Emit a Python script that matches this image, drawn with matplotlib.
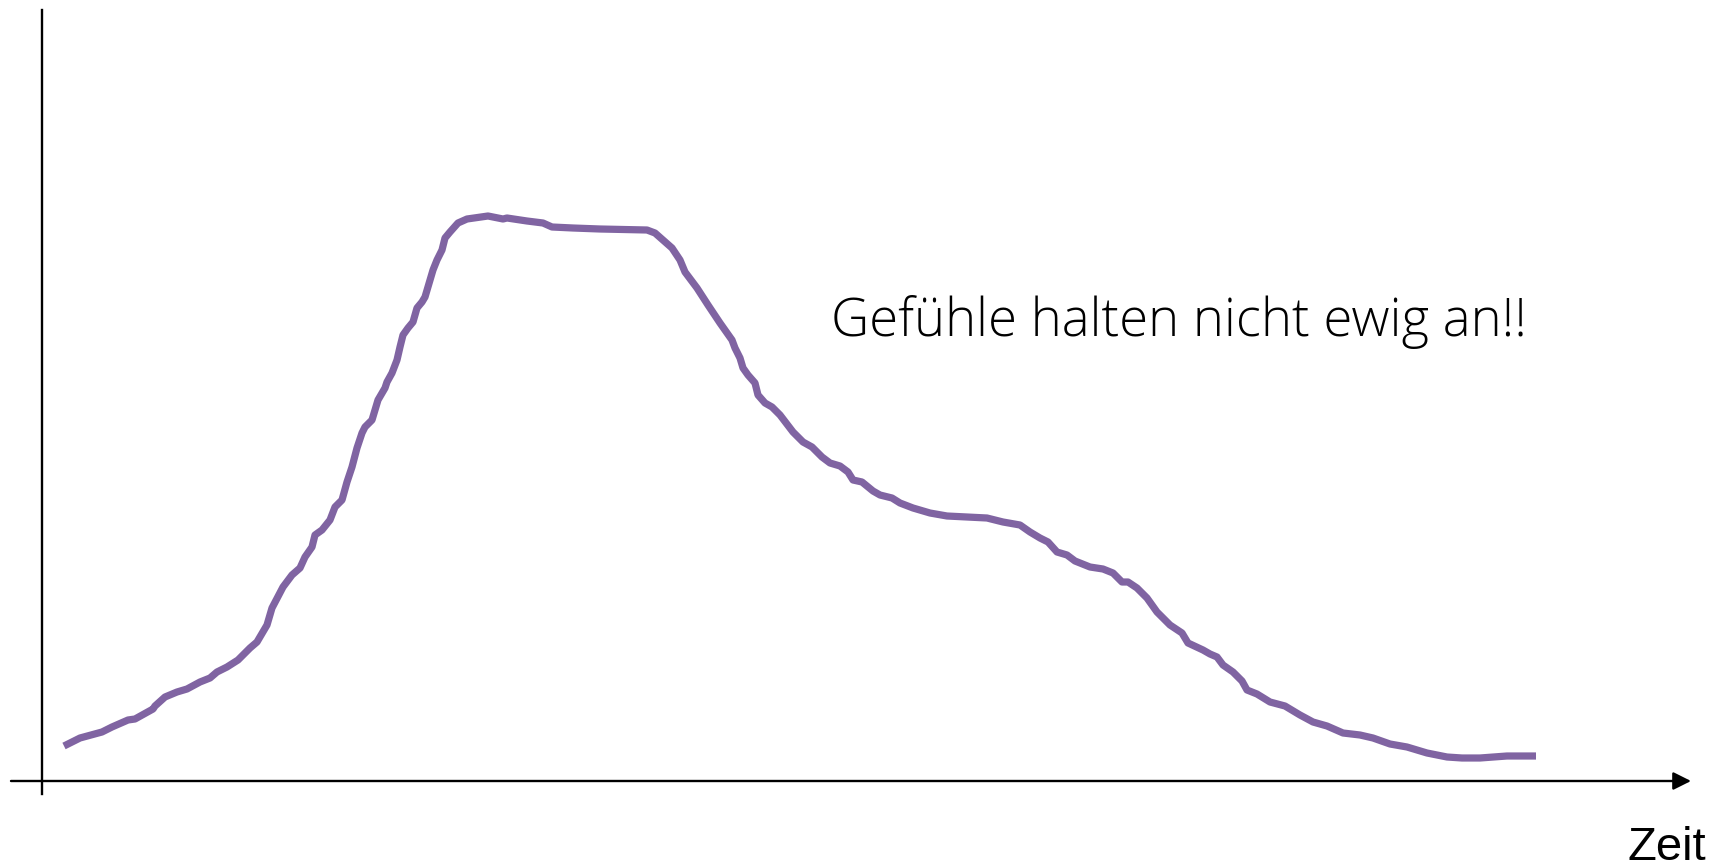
import matplotlib
matplotlib.use("Agg")
import matplotlib.pyplot as plt

# Zeit (x) und Gefühl (y)
zeit = [2.2, 3.8, 6.0, 7.0, 8.6, 9.3, 11.1, 11.3, 12.3, 13.5, 14.5, 15.8, 16.8, 17.5,
        18.5, 19.6, 20.8, 21.5, 22.5, 23.0, 24.1, 25.0, 25.8, 26.3, 27.0, 27.3, 28.0,
        28.8, 29.3, 30.0, 30.5, 31.0, 31.5, 32.0, 32.3, 33.0, 33.3, 33.6, 34.3, 34.5,
        35.0, 35.5, 35.8, 36.1, 36.6, 37.1, 37.5, 38.0, 38.3, 38.6, 39.1, 39.5, 40.0,
        40.3, 40.8, 41.6, 42.5, 44.6, 46.1, 46.5, 48.5, 50.1, 51.0, 53.1, 55.8, 60.5,
        61.3, 62.1, 63.0, 63.8, 64.3, 65.5, 66.6, 67.8, 69.0, 69.3, 69.8, 70.1, 70.6,
        71.3, 71.6, 72.3, 73.0, 73.8, 75.1, 76.1, 77.0, 78.0, 78.8, 79.8, 80.6, 81.1,
        82.0, 83.1, 83.8, 85.0, 85.8, 87.1, 88.8, 90.5, 94.5, 96.1, 97.8, 98.8, 99.8,
        100.6, 101.5, 102.5, 103.3, 104.8, 106.1, 107.1, 108.0, 108.6, 109.5, 110.5,
        111.5, 112.8, 114.0, 114.6, 116.1, 116.8, 117.5, 118.1, 119.1, 120.0, 120.5,
        121.5, 122.8, 124.3, 125.8, 127.1, 128.5, 130.1, 131.8, 133.1, 134.8, 136.5,
        138.5, 140.5, 142.0, 143.8, 146.5, 149.4]
gefuehl = [3.5, 4.3, 4.9, 5.4, 6.1, 6.2, 7.2, 7.5, 8.4, 8.9, 9.2, 9.9, 10.3, 10.9,
           11.4, 12.1, 13.3, 13.9, 15.6, 17.3, 19.4, 20.6, 21.3, 22.4, 23.4, 24.6, 25.1,
           26.1, 27.4, 28.1, 29.9, 31.4, 33.3, 34.8, 35.4, 36.1, 37.1, 38.1, 39.3, 39.9,
           40.8, 42.1, 43.4, 44.6, 45.3, 45.9, 47.3, 47.9, 48.4, 49.4, 51.1, 52.1, 53.1,
           54.3, 54.9, 55.8, 56.2, 56.5, 56.2, 56.3, 56.0, 55.8, 55.4, 55.3, 55.2, 55.1,
           54.8, 54.1, 53.3, 52.1, 50.9, 49.3, 47.6, 45.8, 44.1, 43.3, 42.3, 41.3, 40.6,
           39.8, 38.6, 37.8, 37.4, 36.6, 34.9, 33.9, 33.4, 32.4, 31.8, 31.5, 30.9, 30.1,
           29.9, 29.0, 28.6, 28.3, 27.8, 27.3, 26.8, 26.5, 26.3, 25.9, 25.6, 24.9, 24.3,
           23.9, 22.9, 22.6, 22.0, 21.4, 21.2, 20.8, 19.9, 19.9, 19.3, 18.3,
           16.9, 15.6, 14.8, 13.8, 13.1, 12.7, 12.4, 11.6, 10.9, 10.0, 9.1,
           8.7, 7.9, 7.5, 6.6, 5.9, 5.5, 4.8, 4.6, 4.3, 3.7, 3.4,
           2.8, 2.4, 2.3, 2.3, 2.5, 2.5]

titel = "Gefühle halten nicht ewig an!!"
achse_x = "Zeit"

fig = plt.figure(figsize=(17.22, 8.68), dpi=100)
ax = fig.add_axes([0, 0, 1, 1])
ax.set_xlim(-4.2, 168)
ax.set_ylim(-8.7, 78.1)
ax.axis("off")

# Achsen von Hand
ax.plot([0, 0], [-1.3, 77.1], color="black", lw=1.7)
ax.annotate("", xy=(164.9, 0), xytext=(-3.1, 0),
            arrowprops=dict(arrowstyle="-|>,head_length=0.6,head_width=0.3",
                            mutation_scale=18, lw=1.7, color="black",
                            shrinkA=0, shrinkB=0))

ax.plot(zeit, gefuehl, color="#8064A2", lw=5.2, solid_capstyle="butt",
        solid_joinstyle="round")

ax.text(78.9, 44.5, titel, fontsize=38, family="Open Sans", fontweight="light",
        ha="left", va="baseline")
ax.text(166.4, -7.9, achse_x, fontsize=34, family="Liberation Sans",
        ha="right", va="baseline")

fig.savefig("out.png", dpi=100)
